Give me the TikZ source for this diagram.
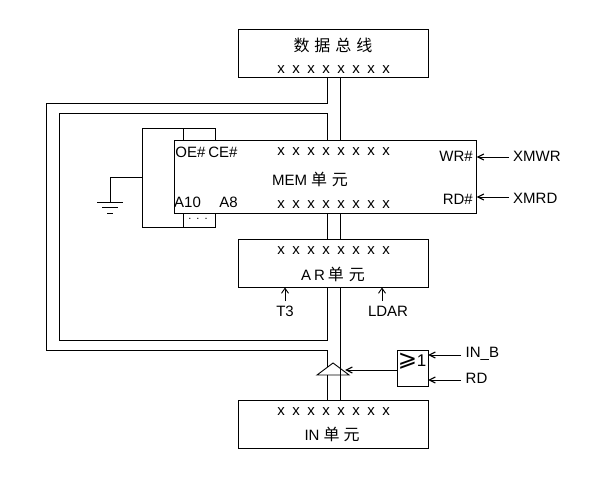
\documentclass[tikz,border=0pt]{standalone}
\usepackage{fontspec}
\setmainfont{Liberation Sans}
\newfontfamily\cjk{Noto Sans CJK SC}
\newfontfamily\symf{DejaVu Sans}
\usetikzlibrary{arrows.meta}
\newcommand{\xcell}{\makebox[15bp]{x}}
\newcommand{\xrow}{\xcell\xcell\xcell\xcell\xcell\xcell\xcell\xcell}
\newcommand{\hz}[1]{\makebox[21bp]{\cjk #1}}
\newcommand{\hzs}[1]{{\cjk\fontsize{16bp}{18bp}\selectfont #1}}
\tikzset{
  x=1bp,y=-1bp,
  wire/.style={line width=0.9bp,black},
  unitbox/.style={draw,line width=0.9bp,inner sep=0pt,outer sep=0pt,minimum width=190bp,minimum height=48bp},
  memunit/.style={draw,line width=0.9bp,inner sep=0pt,outer sep=0pt,minimum width=302.5bp,minimum height=73bp},
  orgate/.style={draw,line width=0.9bp,inner sep=0pt,outer sep=0pt,minimum width=31bp,minimum height=36bp},
  lbl/.style={inner sep=0pt,font=\fontsize{15bp}{18bp}\selectfont},
  sig/.style={wire,-{Straight Barb[length=6bp,width=6bp,line width=1.2bp]}},
  thin sig/.style={wire,-{Straight Barb[length=5bp,width=7bp]}},
}
\begin{document}
\begin{tikzpicture}
\useasboundingbox (0,0) rectangle (595,487);
% units
\node[unitbox] (bus) at (333.5,53) {};
\node[memunit] (mem) at (325.25,176.5) {};
\node[unitbox] (ar) at (333.5,263.5) {};
\node[unitbox] (in) at (333.5,424) {};
\node[orgate] (or) at (412.5,368) {};
% guides
\coordinate (bl) at (327.5,0);
\coordinate (br) at (340.5,0);
\coordinate (ou1) at (46.5,103);
\coordinate (ou2) at (46.5,350);
\coordinate (in1) at (59.5,113.5);
\coordinate (in2) at (59.5,340);
\coordinate (ctlT) at (142.5,128.5);
\coordinate (ctlB) at (142.5,227);
\coordinate (pa) at (183.5,0);
\coordinate (pb) at (215.5,0);
\coordinate (gj) at (142.5,177);
\coordinate (gc) at (110,202);
\coordinate (triA) at (333,363);
\coordinate (triL) at (317,375);
\coordinate (triR) at (349,375);
\coordinate (triE) at (327.5,367);
\coordinate (triT) at (345,370);
\coordinate (wrS) at (509,157);
\coordinate (rdS) at (509,197);
\coordinate (inbS) at (461,355);
\coordinate (rdoS) at (461,380);
\coordinate (t3S) at (285,301);
\coordinate (ldS) at (382,301);
% bus wires
\draw[wire] (bus.south -| bl) |- (ou1) -- (ou2) -| (triE);
\draw[wire] (mem.north -| bl) |- (in1) -- (in2) -| (ar.south -| bl);
\draw[wire] (mem.south -| bl) -- (ar.north -| bl);
\draw[wire] (triL -| bl) -- (in.north -| bl);
\draw[wire] (bus.south -| br) -- (mem.north -| br);
\draw[wire] (mem.south -| br) -- (ar.north -| br);
% tri-state buffer
\draw[wire] (triA) -- (triL) -- (triR) -- cycle;
\draw[wire] (ar.south -| br) -- (in.north -| br);
\draw[sig] (or.west |- triT) -- (triT);
% memory chip select wiring
\draw[wire] (mem.north -| pb) |- (ctlT) -- (ctlB) -| (mem.south -| pb);
\draw[wire] (mem.north -| pa) -- (ctlT -| pa);
\draw[wire] (mem.south -| pa) -- (ctlB -| pa);
% ground
\draw[wire] (gj) -| (gc);
\draw[wire] ([xshift=-13bp]gc) -- ([xshift=13bp]gc);
\draw[wire] ([xshift=-8bp,yshift=-5bp]gc) -- ([xshift=8bp,yshift=-5bp]gc);
\draw[wire] ([xshift=-3bp,yshift=-11bp]gc) -- ([xshift=3bp,yshift=-11bp]gc);
% control arrows
\draw[sig] (wrS) -- (mem.east |- wrS);
\draw[sig] (rdS) -- (mem.east |- rdS);
\draw[sig] (inbS) -- (or.east |- inbS);
\draw[sig] (rdoS) -- (or.east |- rdoS);
\draw[thin sig] (t3S) -- (ar.south -| t3S);
\draw[thin sig] (ldS) -- (ar.south -| ldS);
% text
\node[lbl,font=\fontsize{16bp}{18bp}\selectfont] (busT) at (333,45) {\hz{数}\hz{据}\hz{总}\hz{线}};
\node[lbl] (busX) at (333.5,69.5) {\xrow};
\node[lbl] (memX1) at (333.5,152) {\xrow};
\node[lbl] (memX2) at (333.5,205) {\xrow};
\node[lbl] (arX) at (333.5,251) {\xrow};
\node[lbl] (inX) at (333.5,412) {\xrow};
\node[lbl] (memT) at (310,179) {MEM\hspace{4bp}\hzs{单}\hspace{5bp}\hzs{元}};
\node[lbl] (arT) at (333,274) {A\hspace{3bp}R\hspace{3bp}\hzs{单}\hspace{5bp}\hzs{元}};
\node[lbl] (inT) at (332,434) {IN\hspace{4bp}\hzs{单}\hspace{4bp}\hzs{元}};
\node[lbl] (oe) at (190.5,152.5) {OE\#};
\node[lbl] (ce) at (223,152.5) {CE\#};
\node[lbl] (a10) at (187.5,202.5) {A10};
\node[lbl] (a8) at (228.5,202.5) {A8};
\node[lbl,font=\fontsize{11bp}{13bp}\selectfont] (dots) at (198,219) {.\hspace{5bp}.\hspace{5bp}.};
\node[lbl,anchor=east] (wr) at (473,156) {WR\#};
\node[lbl,anchor=east] (rd) at (473,199) {RD\#};
\node[lbl,anchor=west] (xw) at (513,156) {XMWR};
\node[lbl,anchor=west] (xr) at (513,198) {XMRD};
\node[lbl] (t3) at (285,311) {T3};
\node[lbl] (ld) at (388,311) {LDAR};
\node[lbl,anchor=west] (inb) at (465.5,354) {IN\_B};
\node[lbl,anchor=west] (rdo) at (465.5,378) {RD};
\node[inner sep=0pt,font=\fontsize{23bp}{24bp}\selectfont\symf] (ge) at (407.5,361) {⩾};
\node[lbl,font=\fontsize{17bp}{20bp}\selectfont] (one) at (421.5,361) {1};
\end{tikzpicture}
\end{document}
